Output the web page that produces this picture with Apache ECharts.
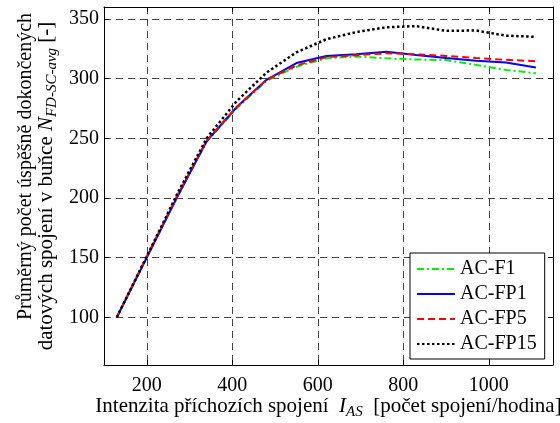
<!DOCTYPE html>
<html>
<head>
<meta charset="utf-8">
<script src="https://cdn.jsdelivr.net/npm/echarts@6/dist/echarts.min.js"></script>
<style>html,body{margin:0;padding:0;background:#fff;}#c{width:560px;height:423px;}</style>
</head>
<body>
<div id="c"></div>
<script>
const xValues = [130, 200, 270, 340, 410, 480, 550, 620, 690, 760, 830, 900, 970, 1040, 1110];
const acF1   = [100, 150, 200, 247, 275, 298, 310, 317, 318.5, 317, 316, 315.5, 311.5, 307.3, 304.5];
const acFP1  = [100, 150, 200, 247.5, 276, 299, 313, 319, 320.5, 322.5, 319.8, 317.2, 315, 313.5, 309.3];
const acFP5  = [100, 151, 201, 248, 276, 299, 311, 318, 319.5, 321.2, 320.4, 319, 317.3, 315.7, 314.6];
const acFP15 = [100, 151, 202.5, 250, 281, 305, 322, 333, 339, 343, 344, 340, 340.3, 336, 335];
const xTicks = [200, 400, 600, 800, 1000];
const yTicks = [100, 150, 200, 250, 300, 350];
const seriesNames = ['AC-F1', 'AC-FP1', 'AC-FP5', 'AC-FP15'];

const FONT = '"Liberation Serif", "Times New Roman", serif';
const pair = arr => xValues.map((x, i) => [x, arr[i]]);
const gridLine = { show: true, lineStyle: { color: '#444', type: [7, 5], width: 1 } };
const rich = {
  a:   { fontFamily: FONT, fontSize: 21, color: '#000', lineHeight: 20, verticalAlign: 'top' },
  a1:  { fontFamily: FONT, fontSize: 20, color: '#000', lineHeight: 20, verticalAlign: 'top', padding: [0, 0, 0, 39] },
  i:   { fontFamily: FONT, fontSize: 21, color: '#000', lineHeight: 20, fontStyle: 'italic', verticalAlign: 'top' },
  sub: { fontFamily: FONT, fontSize: 15, color: '#000', lineHeight: 15, fontStyle: 'italic', padding: [12, 0, 0, 0] }
};
const plainNum = v => String(v);

const chart = echarts.init(document.getElementById('c'), null, { renderer: 'canvas' });
chart.setOption({
  animation: false,
  backgroundColor: '#fff',
  grid: { left: 104, right: 7, top: 7, bottom: 58, containLabel: false, outerBoundsMode: 'none' },
  xAxis: [{
    type: 'value', min: 100, max: 1150, position: 'bottom',
    axisLine: { show: true, onZero: false, lineStyle: { color: '#000', width: 1 } },
    axisTick: { show: true, inside: true, length: 5, customValues: xTicks, lineStyle: { color: '#000' } },
    axisLabel: { show: true, customValues: xTicks, margin: 11, formatter: plainNum, fontFamily: FONT, fontSize: 20, color: '#000' },
    splitLine: gridLine,
    name: '{a|Intenzita příchozích spojení  }{i|I}{sub|AS}{a|  [počet spojení/hodina]}',
    nameLocation: 'middle', nameGap: 31, nameMoveOverlap: false,
    nameTextStyle: { rich: rich }
  }, {
    type: 'value', min: 100, max: 1150, position: 'top',
    axisLine: { show: true, onZero: false, lineStyle: { color: '#000', width: 1 } },
    axisTick: { show: true, inside: true, length: 5, customValues: xTicks, lineStyle: { color: '#000' } },
    axisLabel: { show: false },
    splitLine: { show: false }
  }],
  yAxis: [{
    type: 'value', min: 60, max: 360, position: 'left',
    axisLine: { show: true, onZero: false, lineStyle: { color: '#000', width: 1 } },
    axisTick: { show: true, inside: true, length: 5, customValues: yTicks, lineStyle: { color: '#000' } },
    axisLabel: { show: true, customValues: yTicks, margin: 5, formatter: plainNum, fontFamily: FONT, fontSize: 20, color: '#000' },
    splitLine: gridLine,
    name: '{a1|Průměrný počet úspěšně dokončených}\n{a|datových spojení v buňce }{i|N}{sub|FD-SC-avg}{a| [-]}',
    nameLocation: 'middle', nameGap: 48, nameRotate: 90, nameMoveOverlap: false,
    nameTextStyle: { rich: rich, align: 'center' }
  }, {
    type: 'value', min: 60, max: 360, position: 'right',
    axisLine: { show: true, onZero: false, lineStyle: { color: '#000', width: 1 } },
    axisTick: { show: true, inside: true, length: 5, customValues: yTicks, lineStyle: { color: '#000' } },
    axisLabel: { show: false },
    splitLine: { show: false }
  }],
  legend: {
    show: true, orient: 'vertical', left: 410, top: 253,
    width: 138,
    backgroundColor: '#fff', borderColor: '#000', borderWidth: 1,
    padding: [6, 8, 5, 6], itemGap: 5, itemWidth: 38, itemHeight: 20, itemTextGap: 6,
    itemStyle: { opacity: 0 },
    textStyle: { fontFamily: FONT, fontSize: 20, color: '#000' },
    data: seriesNames
  },
  series: [
    { name: seriesNames[0], type: 'line', data: pair(acF1), symbol: 'none', z: 3,
      lineStyle: { color: '#00ee00', width: 2, type: [7, 3, 2, 3] }, itemStyle: { color: '#00ee00' } },
    { name: seriesNames[1], type: 'line', data: pair(acFP1), symbol: 'none', z: 4,
      lineStyle: { color: '#0000ff', width: 2, type: 'solid' }, itemStyle: { color: '#0000ff' } },
    { name: seriesNames[2], type: 'line', data: pair(acFP5), symbol: 'none', z: 5,
      lineStyle: { color: '#ff0000', width: 2, type: [7, 4] }, itemStyle: { color: '#ff0000' } },
    { name: seriesNames[3], type: 'line', data: pair(acFP15), symbol: 'none', z: 6,
      lineStyle: { color: '#000', width: 2.5, type: [2.5, 2.5] }, itemStyle: { color: '#000' } }
  ]
});
</script>
</body>
</html>
